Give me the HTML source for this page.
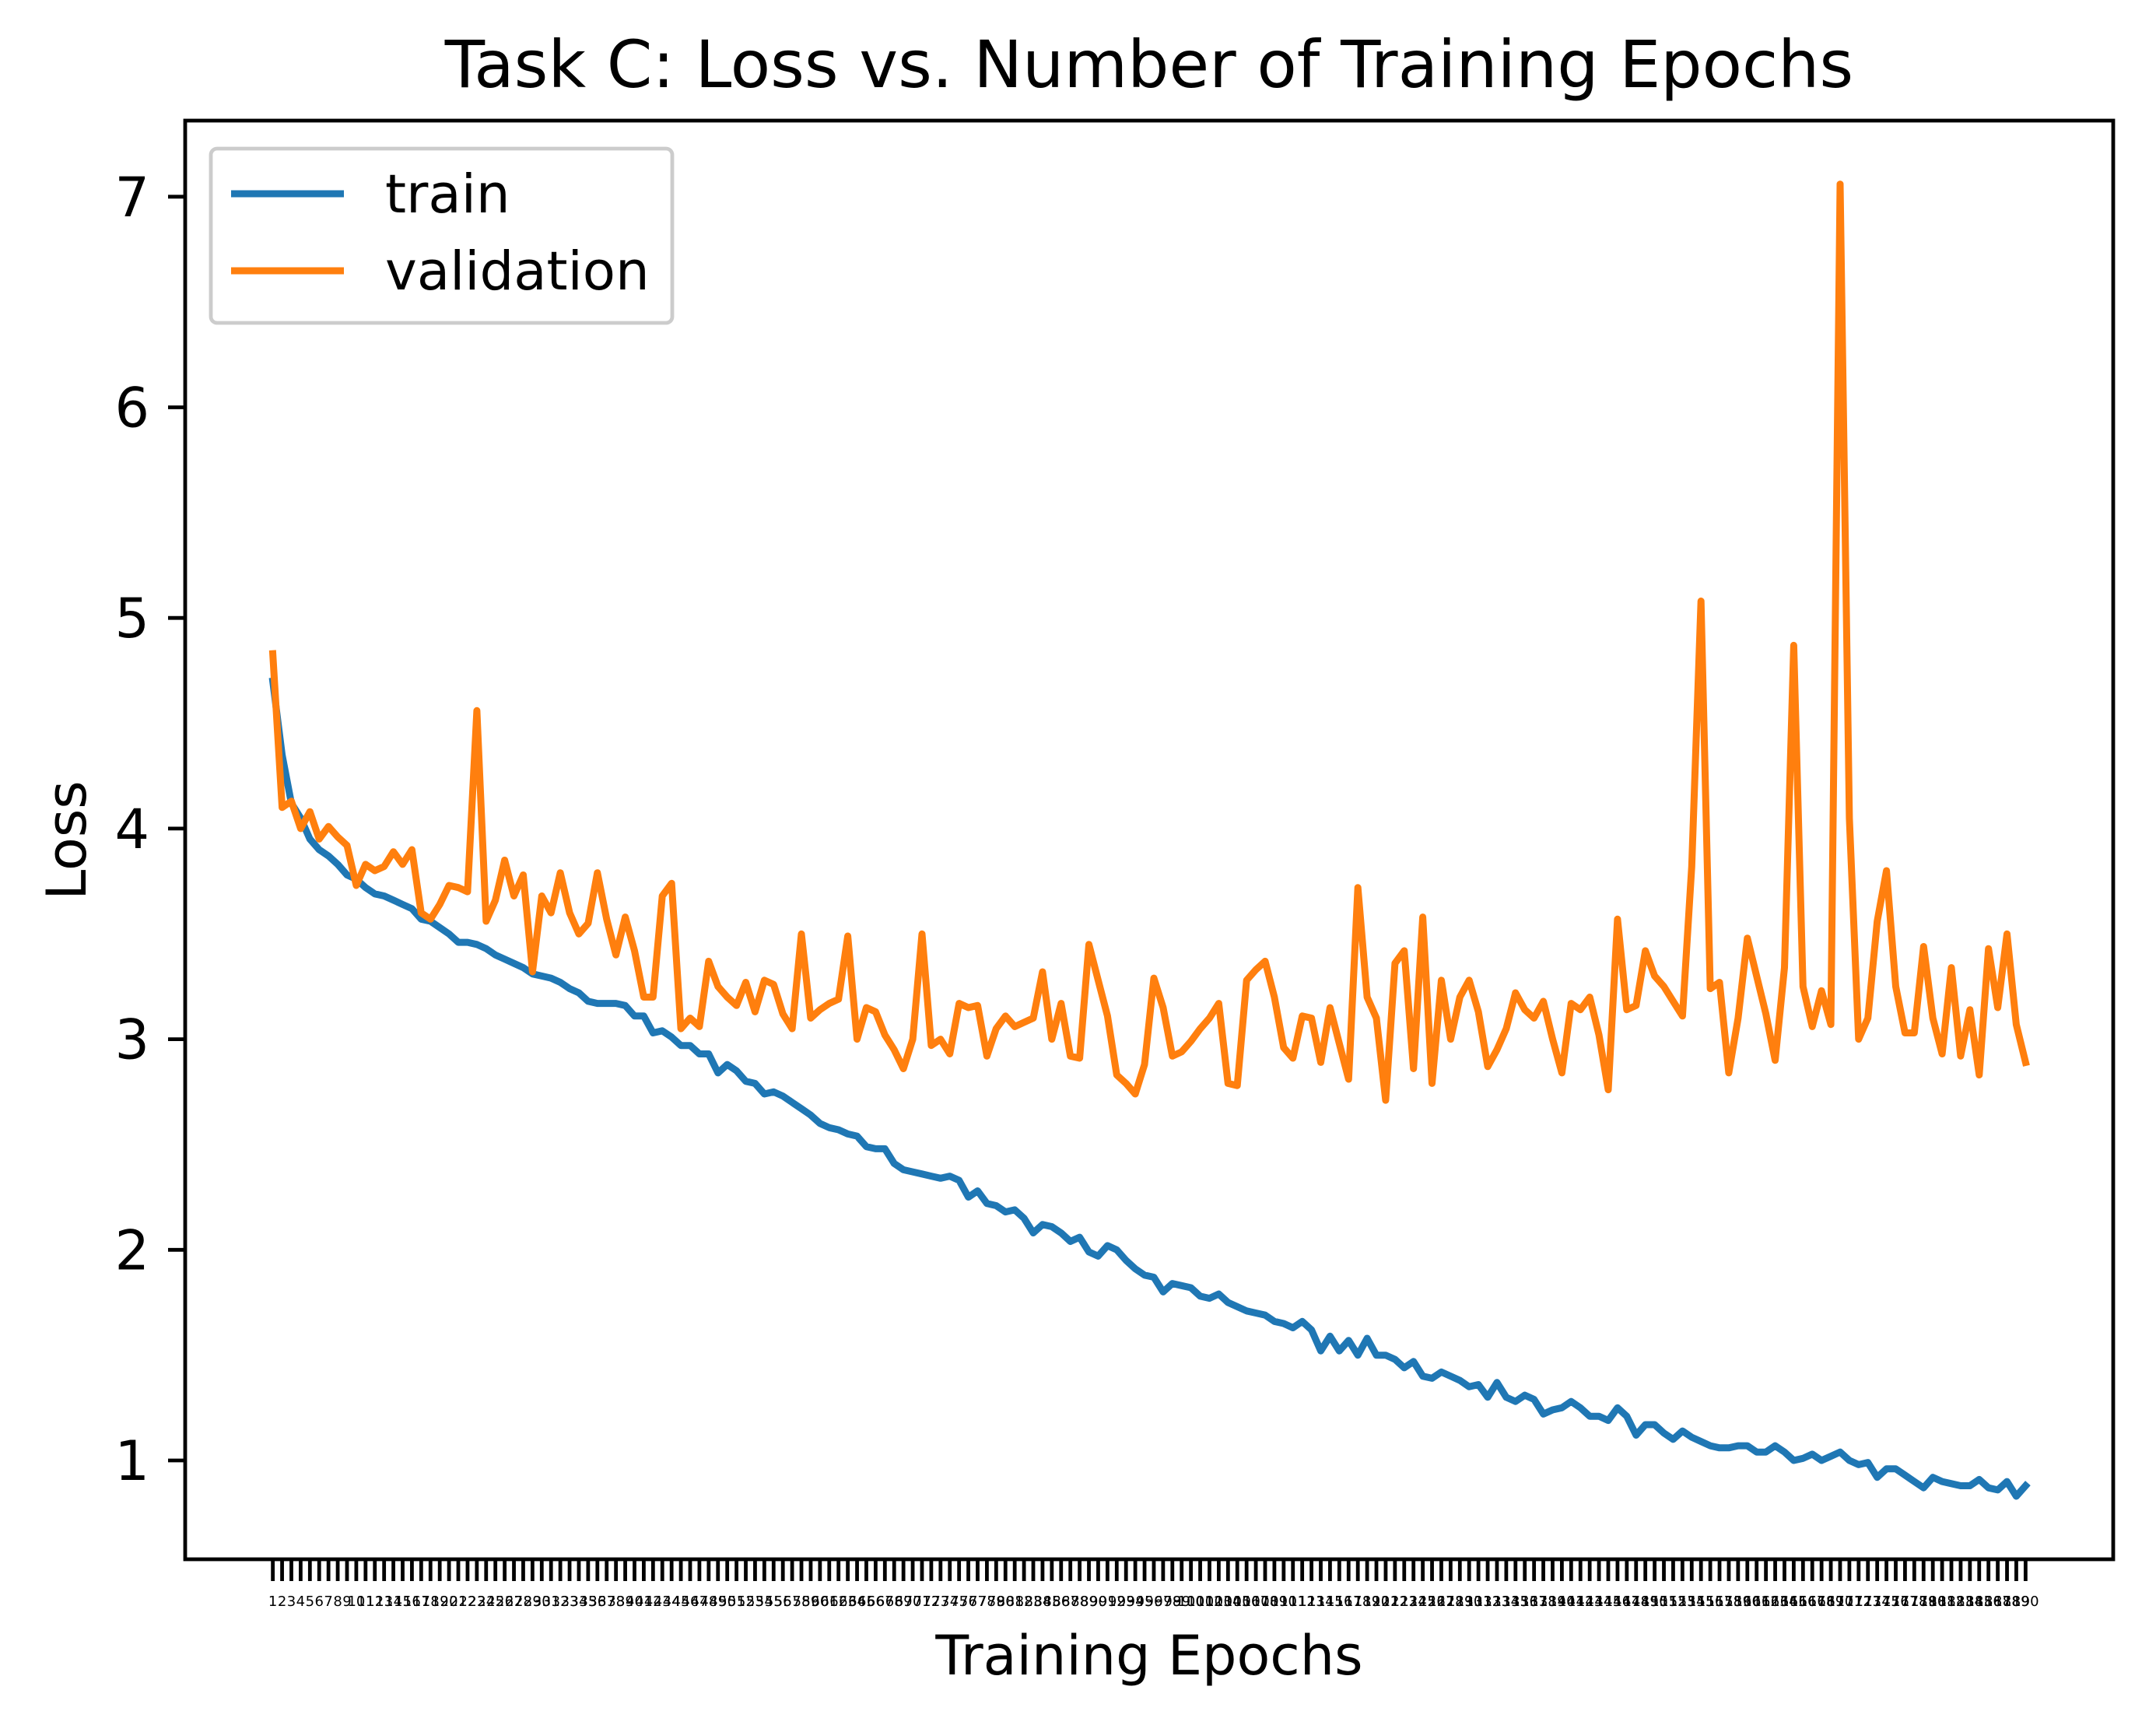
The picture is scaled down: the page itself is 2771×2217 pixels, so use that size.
<!DOCTYPE html>
<html><head><meta charset="utf-8"><style>
html,body{margin:0;padding:0;background:#fff}
svg{display:block;font-family:"DejaVu Sans","Liberation Sans",sans-serif}
</style></head><body>
<svg id="chart" width="2771" height="2217" viewBox="0 0 2771 2217" xmlns="http://www.w3.org/2000/svg">
<rect width="2771" height="2217" fill="#fff"/>
<text x="1477" y="112" font-size="84" text-anchor="middle">Task C: Loss vs. Number of Training Epochs</text>
<text x="1477" y="2152" font-size="70" text-anchor="middle">Training Epochs</text>
<text x="0" y="0" font-size="70" text-anchor="middle" transform="translate(110,1080) rotate(-90)">Loss</text>
<g id="ticks"></g>
<g id="lines"></g>
<rect x="238" y="155" width="2478" height="1849" fill="none" stroke="#000" stroke-width="4.8"/>
<g>
<rect x="271" y="191" width="593" height="224" rx="8" fill="#fff" fill-opacity="0.8" stroke="#ccc" stroke-width="4.8"/>
<line x1="297" y1="249" x2="442" y2="249" stroke="#1f77b4" stroke-width="9"/>
<text x="495" y="273" font-size="69">train</text>
<line x1="297" y1="348" x2="442" y2="348" stroke="#ff7f0e" stroke-width="9"/>
<text x="495" y="372" font-size="69">validation</text>
</g>
</svg>
<script>
const trainLoss=[4.7,4.35,4.12,4.05,3.95,3.9,3.87,3.83,3.78,3.76,3.72,3.69,3.68,3.66,3.64,3.62,3.57,3.56,3.53,3.5,3.46,3.46,3.45,3.43,3.4,3.38,3.36,3.34,3.31,3.3,3.29,3.27,3.24,3.22,3.18,3.17,3.17,3.17,3.16,3.11,3.11,3.03,3.04,3.01,2.97,2.97,2.93,2.93,2.84,2.88,2.85,2.8,2.79,2.74,2.75,2.73,2.7,2.67,2.64,2.6,2.58,2.57,2.55,2.54,2.49,2.48,2.48,2.41,2.38,2.37,2.36,2.35,2.34,2.35,2.33,2.25,2.28,2.22,2.21,2.18,2.19,2.15,2.08,2.12,2.11,2.08,2.04,2.06,1.99,1.97,2.02,2.0,1.95,1.91,1.88,1.87,1.8,1.84,1.83,1.82,1.78,1.77,1.79,1.75,1.73,1.71,1.7,1.69,1.66,1.65,1.63,1.66,1.62,1.52,1.59,1.52,1.57,1.5,1.58,1.5,1.5,1.48,1.44,1.47,1.4,1.39,1.42,1.4,1.38,1.35,1.36,1.3,1.37,1.3,1.28,1.31,1.29,1.22,1.24,1.25,1.28,1.25,1.21,1.21,1.19,1.25,1.21,1.12,1.17,1.17,1.13,1.1,1.14,1.11,1.09,1.07,1.06,1.06,1.07,1.07,1.04,1.04,1.07,1.04,1.0,1.01,1.03,1.0,1.02,1.04,1.0,0.98,0.99,0.92,0.96,0.96,0.93,0.9,0.87,0.92,0.9,0.89,0.88,0.88,0.91,0.87,0.86,0.9,0.83,0.88];
const valLoss=[4.83,4.1,4.13,4.0,4.08,3.95,4.01,3.96,3.92,3.73,3.83,3.8,3.82,3.89,3.83,3.9,3.6,3.57,3.64,3.73,3.72,3.7,4.56,3.56,3.66,3.85,3.68,3.78,3.32,3.68,3.6,3.79,3.6,3.5,3.55,3.79,3.57,3.4,3.58,3.42,3.2,3.2,3.68,3.74,3.05,3.1,3.06,3.37,3.25,3.2,3.16,3.27,3.13,3.28,3.26,3.12,3.05,3.5,3.1,3.14,3.17,3.19,3.49,3.0,3.15,3.13,3.02,2.95,2.86,3.0,3.5,2.97,3.0,2.93,3.17,3.15,3.16,2.92,3.05,3.11,3.06,3.08,3.1,3.32,3.0,3.17,2.92,2.91,3.45,3.28,3.11,2.83,2.79,2.74,2.88,3.29,3.15,2.92,2.94,2.99,3.05,3.1,3.17,2.79,2.78,3.28,3.33,3.37,3.2,2.96,2.91,3.11,3.1,2.89,3.15,2.98,2.81,3.72,3.2,3.1,2.71,3.36,3.42,2.86,3.58,2.79,3.28,3.0,3.2,3.28,3.13,2.87,2.95,3.05,3.22,3.14,3.1,3.18,3.0,2.84,3.17,3.14,3.2,3.02,2.76,3.57,3.14,3.16,3.42,3.3,3.25,3.18,3.11,3.82,5.08,3.24,3.27,2.84,3.1,3.48,3.3,3.12,2.9,3.34,4.87,3.25,3.06,3.23,3.07,7.06,4.05,3.0,3.1,3.56,3.8,3.25,3.03,3.03,3.44,3.1,2.93,3.34,2.92,3.14,2.83,3.43,3.15,3.5,3.07,2.89];
const yTickValues=[1,2,3,4,5,6,7];
const epochLabels=trainLoss.map((_, i)=>String(i+1));

const NS='http://www.w3.org/2000/svg';
const n=trainLoss.length;
function xScale(i){const span=(n-1)*1.1;return 238+((i+(n-1)*0.05)/span)*2478;}
function yScale(v){return 1877-(v-1)*270.7;}
const ticks=document.getElementById('ticks');
const lines=document.getElementById('lines');
function mk(tag,attrs,parent){const e=document.createElementNS(NS,tag);for(const k in attrs)e.setAttribute(k,attrs[k]);parent.appendChild(e);return e;}

yTickValues.forEach(v=>{
  const y=yScale(v);
  const t=mk('line',{x1:216,y1:y,x2:238,y2:y,stroke:'#000','stroke-width':4.8},ticks);
  
  
  const l=mk('text',{x:192,y:y+25,'font-size':70,'text-anchor':'end'},ticks);
  l.textContent=String(v);
  
  
});
epochLabels.forEach((lab,i)=>{
  const x=xScale(i);
  const t=mk('line',{x1:x,y1:2004,x2:x,y2:2032,stroke:'#000','stroke-width':4.8},ticks);
  
  
  const l=mk('text',{x:x,y:2064,'font-size':18,'text-anchor':'middle'},ticks);
  l.textContent=lab;
  
  
});
function series(data,color,name){
  const pts=data.map((v,i)=>xScale(i).toFixed(1)+','+yScale(v).toFixed(1)).join(' ');
  const p=mk('polyline',{points:pts,fill:'none',stroke:color,'stroke-width':9,'stroke-linejoin':'round','stroke-linecap':'square'},lines);
  
  
}
series(trainLoss,'#1f77b4','train-line');
series(valLoss,'#ff7f0e','validation-line');
</script>
</body></html>
